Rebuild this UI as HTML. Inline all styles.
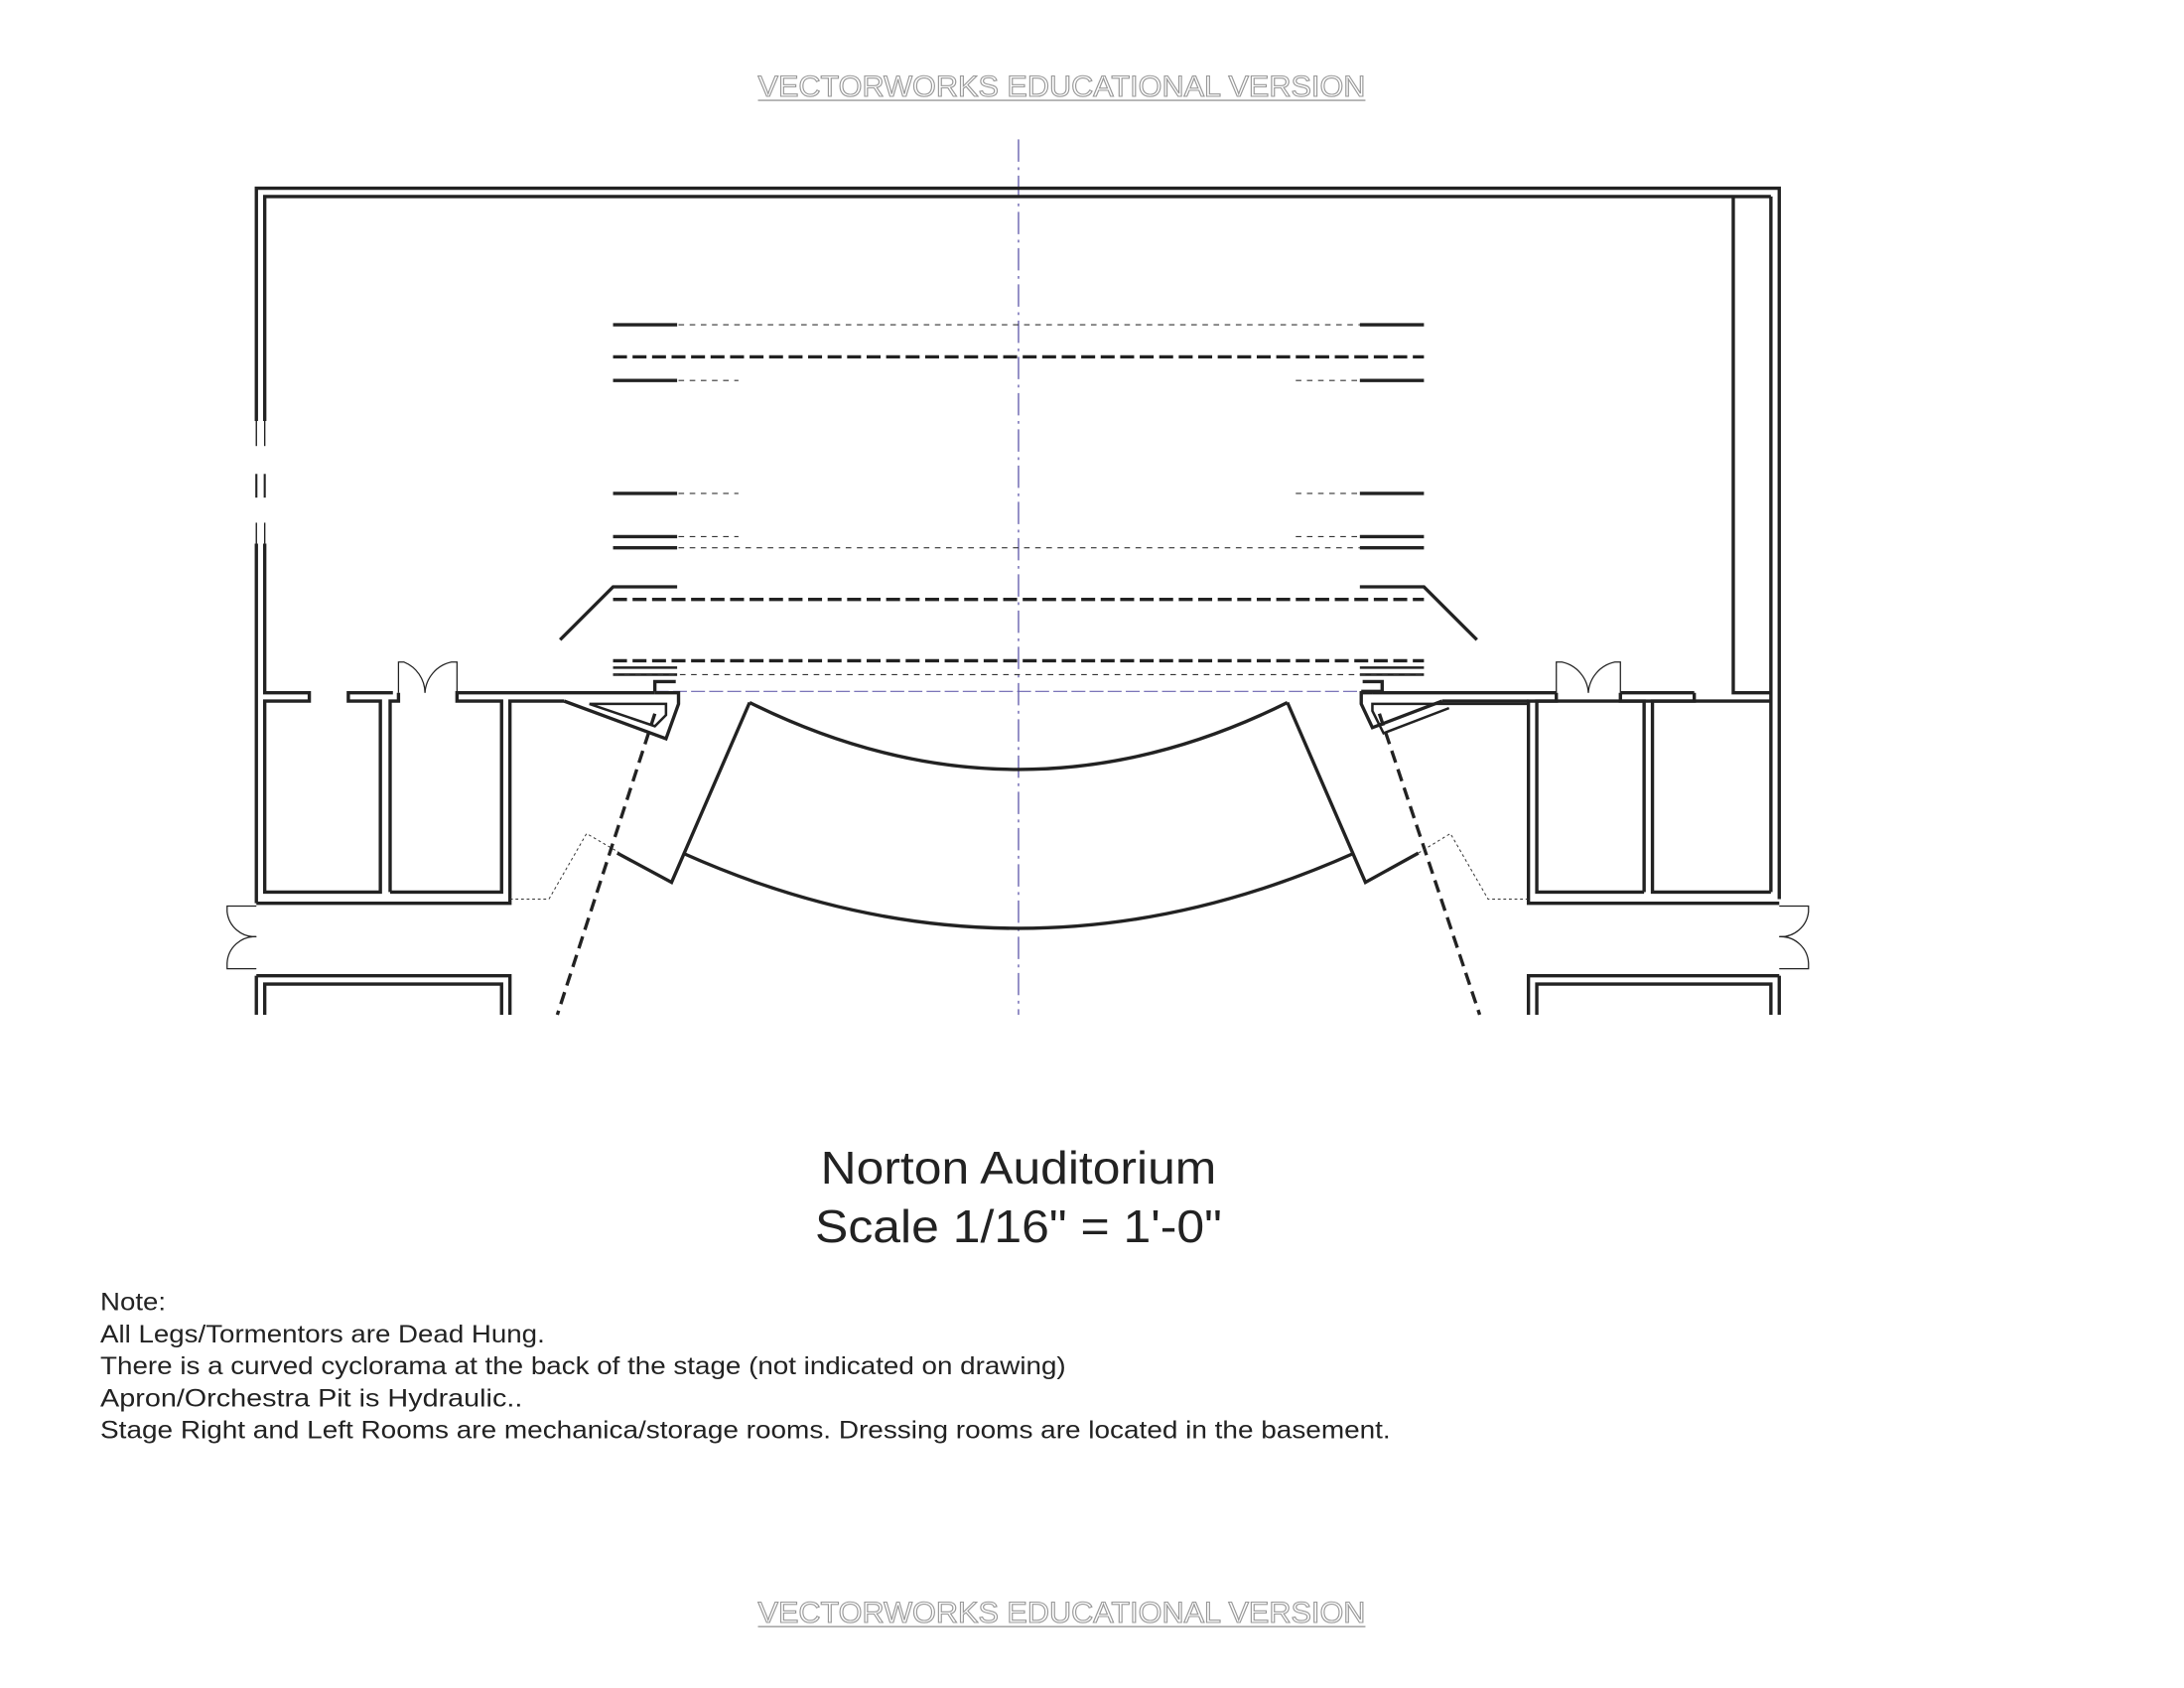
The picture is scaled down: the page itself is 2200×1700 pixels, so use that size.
<!DOCTYPE html>
<html><head><meta charset="utf-8"><style>html,body{margin:0;padding:0;background:#fff}svg{display:block}</style></head>
<body>
<svg width="2200" height="1700" viewBox="0 0 1567.5 1211" preserveAspectRatio="none" xmlns="http://www.w3.org/2000/svg" font-family="Liberation Sans, sans-serif">
<rect width="1567.5" height="1211" fill="#fff"/>
<g fill="#fff" stroke="#999" stroke-width="0.8" font-size="21" text-anchor="middle">
<text x="762" y="69" textLength="436" lengthAdjust="spacingAndGlyphs">VECTORWORKS EDUCATIONAL VERSION</text>
<text x="762" y="1164" textLength="436" lengthAdjust="spacingAndGlyphs">VECTORWORKS EDUCATIONAL VERSION</text>
</g>
<line x1="544" y1="72" x2="980" y2="72" stroke="#999" stroke-width="1"/>
<line x1="544" y1="1167" x2="980" y2="1167" stroke="#999" stroke-width="1"/>

<line x1="731" y1="100" x2="731" y2="728" stroke="#6a63b0" stroke-width="1" stroke-dasharray="16,4,2,4"/>
<line x1="470" y1="496" x2="990" y2="496" stroke="#6a63b0" stroke-width="0.8" stroke-dasharray="10,3"/>

<g stroke="#222" stroke-width="2.4" fill="none" stroke-linejoin="miter">
<polyline points="184,302 184,135 1277,135 1277,645"/>
<polyline points="190,302 190,141 1271,141"/>
<line x1="184" y1="340" x2="184" y2="357" stroke-width="1.5"/>
<line x1="190" y1="340" x2="190" y2="357" stroke-width="1.5"/>
<line x1="184" y1="302" x2="184" y2="320" stroke-width="1"/>
<line x1="190" y1="302" x2="190" y2="320" stroke-width="1"/>
<line x1="184" y1="375" x2="184" y2="390" stroke-width="1"/>
<line x1="190" y1="375" x2="190" y2="390" stroke-width="1"/>
<polyline points="184,390 184,648"/>
<polyline points="190,390 190,497 222,497 222,503 190,503 190,640 273,640 273,503 250,503 250,497 282,497"/>
<polyline points="280,640 280,503 286,503 286,497"/>
<polyline points="280,640 360,640 360,503 328,503 328,497 470,497"/>
<polyline points="184,648 366,648 366,503 405,503"/>
<polyline points="184,700 366,700 366,728"/>
<polyline points="184,700 184,728"/>
<polyline points="190,728 190,706 360,706 360,728"/>
<polyline points="1271,141 1271,640"/>
<polyline points="1244,141 1244,497 1271,497"/>
<polyline points="1216,497 1216,503 1163,503 1163,497"/>
<polyline points="1216,497 1163,497"/>
<polyline points="1271,503 1186,503 1186,640 1271,640"/>
<polyline points="1180,640 1180,503 1103,503 1103,640 1180,640"/>
<polyline points="1117,497 985,497"/>
<polyline points="1117,497 1117,503 1097,503 1097,648 1277,648"/>
<polyline points="1097,503 1035,503"/>
<polyline points="1277,700 1097,700 1097,728"/>
<polyline points="1277,700 1277,728"/>
<polyline points="1271,728 1271,706 1103,706 1103,728"/>
<polyline points="405,503 478,530 487,505 487,497 470,497"/>
<polyline points="423,505 470,521 478,513 478,505 423,505" stroke-width="1.8"/>
<polyline points="470,496 470,489 485,489"/>
<polyline points="1035,503 985,522 977,505 977,497 985,497"/>
<polyline points="1040,508 993,526 985,510 985,505 1097,505" stroke-width="1.8"/>
<polyline points="977,496 992,496 992,489 978,489"/>
<path d="M538,504 Q731,600 924,504"/>
<path d="M490,612 Q731,720 972,612"/>
<polyline points="538,504 482,633 443,612"/>
<polyline points="924,504 980,633 1018,612"/>
<line x1="470" y1="512" x2="400" y2="728" stroke-dasharray="9,5"/>
<line x1="990" y1="512" x2="1062" y2="728" stroke-dasharray="9,5"/>
<line x1="440" y1="233" x2="486" y2="233"/><line x1="976" y1="233" x2="1022" y2="233"/>
<line x1="440" y1="273" x2="486" y2="273"/><line x1="976" y1="273" x2="1022" y2="273"/>
<line x1="440" y1="354" x2="486" y2="354"/><line x1="976" y1="354" x2="1022" y2="354"/>
<line x1="440" y1="385" x2="486" y2="385"/><line x1="976" y1="385" x2="1022" y2="385"/>
<line x1="440" y1="393" x2="486" y2="393"/><line x1="976" y1="393" x2="1022" y2="393"/>
<polyline points="486,421 440,421 402,459"/><polyline points="976,421 1022,421 1060,459"/>
<line x1="440" y1="479" x2="486" y2="479" stroke-width="1.8"/><line x1="976" y1="479" x2="1022" y2="479" stroke-width="1.8"/>
<line x1="440" y1="484" x2="486" y2="484" stroke-width="1.8"/><line x1="976" y1="484" x2="1022" y2="484" stroke-width="1.8"/>
<line x1="440" y1="256" x2="1022" y2="256" stroke-dasharray="10,4"/>
<line x1="440" y1="430" x2="1022" y2="430" stroke-dasharray="10,4"/>
<line x1="440" y1="474" x2="1022" y2="474" stroke-dasharray="10,4"/>
</g>
<g stroke="#333" stroke-width="0.8" stroke-dasharray="4,4" fill="none">
<line x1="487" y1="233" x2="976" y2="233"/>
<line x1="487" y1="273" x2="530" y2="273"/><line x1="930" y1="273" x2="975" y2="273"/>
<line x1="487" y1="354" x2="530" y2="354"/><line x1="930" y1="354" x2="975" y2="354"/>
<line x1="487" y1="385" x2="530" y2="385"/><line x1="930" y1="385" x2="975" y2="385"/>
<line x1="487" y1="393" x2="976" y2="393"/>
<line x1="440" y1="484" x2="1022" y2="484"/>
</g>
<g stroke="#333" stroke-width="0.7" stroke-dasharray="2,2" fill="none">
<polyline points="366,645 394,645 421,598 445,612"/>
<polyline points="1097,645 1068,645 1041,598 1018,612"/>
</g>
<g stroke="#222" stroke-width="0.9" fill="none">
<path d="M286,497 L286,475 L290,475 A24,24 0 0 1 305,497"/>
<path d="M328,497 L328,475 L324,475 A24,24 0 0 0 305,497"/>
<path d="M1117,497 L1117,475 L1121,475 A24,24 0 0 1 1140,497"/>
<path d="M1163,497 L1163,475 L1159,475 A24,24 0 0 0 1140,497"/>
<path d="M184,650 L163,650 L163,654 A20,20 0 0 0 184,672"/>
<path d="M184,695 L163,695 L163,691 A20,20 0 0 1 184,672"/>
<path d="M1277,650 L1298,650 L1298,654 A20,20 0 0 1 1277,672"/>
<path d="M1277,695 L1298,695 L1298,691 A20,20 0 0 0 1277,672"/>
</g>
<g fill="#222" text-anchor="middle" font-size="33">
<text x="731" y="849" textLength="284" lengthAdjust="spacingAndGlyphs">Norton Auditorium</text>
<text x="731" y="891" textLength="292" lengthAdjust="spacingAndGlyphs">Scale 1/16" = 1'-0"</text>
</g>
<g fill="#222" font-size="17.5">
<text x="72" y="940" textLength="47" lengthAdjust="spacingAndGlyphs">Note:</text>
<text x="72" y="963" textLength="319" lengthAdjust="spacingAndGlyphs">All Legs/Tormentors are Dead Hung.</text>
<text x="72" y="986" textLength="693" lengthAdjust="spacingAndGlyphs">There is a curved cyclorama at the back of the stage (not indicated on drawing)</text>
<text x="72" y="1009" textLength="303" lengthAdjust="spacingAndGlyphs">Apron/Orchestra Pit is Hydraulic..</text>
<text x="72" y="1032" textLength="926" lengthAdjust="spacingAndGlyphs">Stage Right and Left Rooms are  mechanica/storage rooms. Dressing rooms are located in the basement.</text>
</g>
</svg>
</body></html>
